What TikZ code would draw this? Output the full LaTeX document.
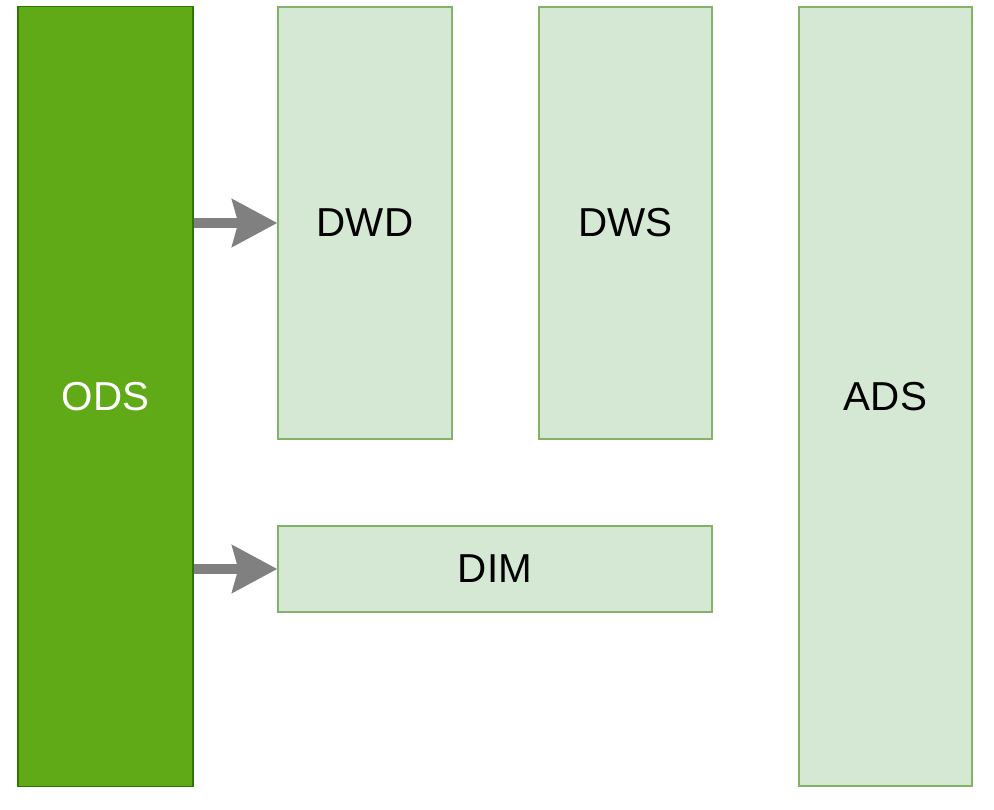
\documentclass[tikz,border=0pt]{standalone}
\usepackage{fontspec}
\setmainfont{Liberation Sans}
\usepackage{tikz}
\usetikzlibrary{arrows.meta}

\definecolor{odsfill}{HTML}{60A917}
\definecolor{odsline}{HTML}{2D7600}
\definecolor{layerfill}{HTML}{D5E8D4}
\definecolor{layerline}{HTML}{82B366}
\definecolor{arrowgray}{HTML}{808080}

\tikzset{
  layerbox/.style={draw=layerline,fill=layerfill,line width=0.8pt,inner sep=0pt,
    font=\fontsize{23}{28}\selectfont,text=black},
  odsbox/.style={draw=odsline,fill=odsfill,line width=0.9pt,inner sep=0pt,
    font=\fontsize{23}{28}\selectfont,text=white},
  flow/.style={draw=arrowgray,line width=5.4pt,
    -{Stealth[length=0.9cm,width=0.94cm,inset=0.12cm]}}
}

\begin{document}
\begin{tikzpicture}[x=0.02cm,y=-0.02cm]
\useasboundingbox (0,0) rectangle (994,810);
\node[odsbox,minimum width=3.5cm,minimum height=15.6cm] (ods) at (105.5,396.5) {ODS};
\node[layerbox,minimum width=3.48cm,minimum height=8.64cm] (dwd) at (365,223) {DWD};
\node[layerbox,minimum width=3.46cm,minimum height=8.64cm] (dws) at (625.5,223) {DWS};
\node[layerbox,minimum width=3.46cm,minimum height=15.58cm] (ads) at (885.5,396.5) {ADS};
\node[layerbox,minimum width=8.68cm,minimum height=1.72cm] (dim) at (495,569) {DIM};
\draw[flow] (ods.east |- dwd.west) -- (dwd.west);
\draw[flow] (ods.east |- dim.west) -- (dim.west);
\end{tikzpicture}
\end{document}
